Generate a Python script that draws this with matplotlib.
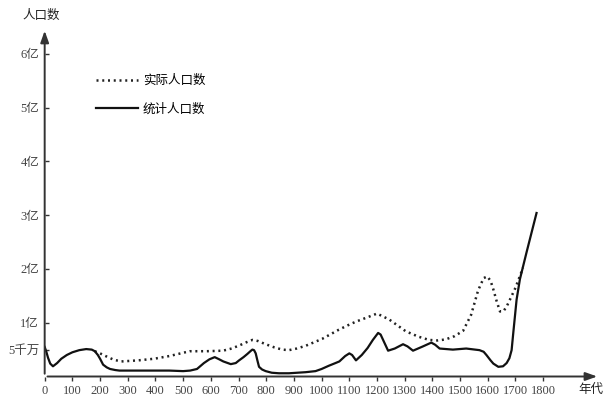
import matplotlib
matplotlib.use("Agg")
import matplotlib.pyplot as plt

plt.rcParams['font.family'] = ['Liberation Serif', 'Noto Sans CJK SC', 'DejaVu Sans']

# 统计人口数 (solid), 亿
stat_years = [0, 6, 12, 20, 30, 45, 60, 80, 100, 125, 150, 170, 181, 192, 200, 211, 224,
              236, 255, 270, 350, 450, 500, 525, 550, 575, 595, 614, 630, 645, 672, 690,
              702, 718, 732, 745, 750, 756, 762, 768, 774, 785, 798, 820, 846, 882, 942,
              978, 1000, 1026, 1050, 1064, 1085, 1100, 1110, 1124, 1145, 1166, 1185, 1204,
              1213, 1222, 1240, 1264, 1294, 1310, 1330, 1366, 1396, 1410, 1426, 1474,
              1522, 1570, 1585, 1595, 1610, 1620, 1638, 1655, 1668, 1678, 1686, 1692,
              1704, 1716, 1740, 1776]
stat_pop = [0.55, 0.46, 0.35, 0.24, 0.19, 0.25, 0.33, 0.40, 0.45, 0.49, 0.51, 0.50, 0.47,
            0.40, 0.33, 0.22, 0.17, 0.14, 0.12, 0.11, 0.11, 0.11, 0.10, 0.11, 0.14, 0.25,
            0.32, 0.36, 0.32, 0.28, 0.23, 0.25, 0.30, 0.36, 0.42, 0.48, 0.50, 0.49, 0.43,
            0.30, 0.18, 0.13, 0.10, 0.07, 0.06, 0.06, 0.08, 0.10, 0.14, 0.20, 0.25, 0.28,
            0.38, 0.43, 0.40, 0.30, 0.40, 0.53, 0.68, 0.81, 0.78, 0.68, 0.48, 0.52, 0.60,
            0.56, 0.48, 0.56, 0.63, 0.59, 0.52, 0.50, 0.52, 0.49, 0.46, 0.40, 0.30, 0.24,
            0.18, 0.19, 0.25, 0.34, 0.49, 0.81, 1.43, 1.81, 2.31, 3.04]

# 实际人口数 (dotted), 亿
real_years = [181, 200, 220, 250, 277, 338, 395, 450, 524, 584, 644, 675, 704, 730, 750,
              770, 798, 830, 858, 882, 910, 942, 1002, 1062, 1098, 1124, 1165, 1200, 1244,
              1304, 1350, 1388, 1420, 1448, 1480, 1511, 1540, 1565, 1585, 1598, 1610, 1620,
              1632, 1644, 1656, 1668, 1680, 1700, 1716, 1727]
real_pop = [0.47, 0.43, 0.38, 0.31, 0.28, 0.30, 0.33, 0.38, 0.47, 0.47, 0.48, 0.52, 0.58,
            0.64, 0.68, 0.66, 0.60, 0.54, 0.50, 0.49, 0.52, 0.57, 0.70, 0.87, 0.96, 1.02,
            1.10, 1.17, 1.06, 0.84, 0.74, 0.68, 0.67, 0.69, 0.75, 0.85, 1.15, 1.60, 1.83,
            1.86, 1.78, 1.62, 1.40, 1.21, 1.21, 1.30, 1.43, 1.65, 1.87, 2.02]

xticks = list(range(0, 1900, 100))
yticks = [0.5, 1, 2, 3, 4, 5, 6]
ylabels = ['5千万', '1亿', '2亿', '3亿', '4亿', '5亿', '6亿']

fig = plt.figure(figsize=(6.07, 4.0), dpi=100)
ax = fig.add_axes([0.0736, 0.05875, 0.9148, 0.87125])
ax.set_xlim(0, 2005)
ax.set_ylim(0, 6.48)

ax.plot(real_years, real_pop, color='#222222', lw=1.8, linestyle=(0, (0.8, 1.5)),
        label='实际人口数')
ax.plot(stat_years, stat_pop, color='#111111', lw=1.6, label='统计人口数')

for s in ax.spines.values():
    s.set_visible(False)
arrow = dict(arrowstyle='-|>,head_length=0.7,head_width=0.25', color='#333333', lw=1.4)
ax.annotate('', xy=(1, 0), xytext=(0, 0), xycoords='axes fraction', arrowprops=arrow)
ax.annotate('', xy=(0, 1), xytext=(0, 0), xycoords='axes fraction', arrowprops=arrow)

ax.set_xticks(xticks)
ax.set_xticklabels([str(v) for v in xticks])
ax.set_yticks(yticks)
ax.set_yticklabels(ylabels)
ax.tick_params(axis='x', direction='out', length=3, width=1, colors='#333333',
               labelsize=9, pad=3)
ax.tick_params(axis='y', direction='in', length=3, width=1, colors='#333333',
               labelsize=9, pad=4)
for lab in ax.get_xticklabels() + ax.get_yticklabels():
    lab.set_color('#444444')

ax.text(-0.006, 1.034, '人口数', transform=ax.transAxes, ha='center', va='center',
        fontsize=9, color='#222222')
ax.text(1.007, -0.038, '年代', transform=ax.transAxes, ha='right', va='center',
        fontsize=9, color='#222222')

ax.legend(loc='upper left', bbox_to_anchor=(0.092, 0.866), frameon=False,
          fontsize=9, handlelength=3.4, handletextpad=0.35, labelspacing=1.3,
          borderpad=0, borderaxespad=0)

fig.savefig('out.png', dpi=100)
